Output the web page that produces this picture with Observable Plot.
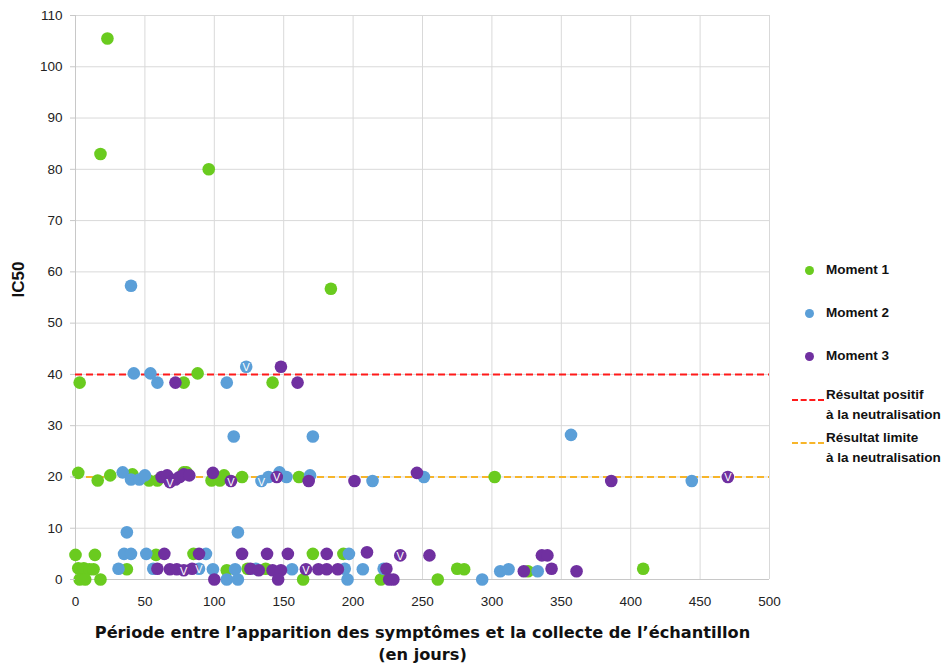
<!DOCTYPE html>
<html><head><meta charset="utf-8">
<script src="https://cdn.jsdelivr.net/npm/d3@7"></script>
<script src="https://cdn.jsdelivr.net/npm/@observablehq/plot@0.6"></script>
<style>
body{margin:0;background:#fff;font-family:"Liberation Sans",Arial,sans-serif;}
#wrap{position:relative;width:947px;height:663px;}
.lg{position:absolute;font-weight:bold;font-size:13.5px;color:#111;line-height:20px;}
.dot{position:absolute;width:9px;height:9px;border-radius:50%;}
.ln{position:absolute;width:32px;height:0;border-top:2px dashed;}
</style></head>
<body><div id="wrap"></div>
<script>
// [jours, IC50, marqueur V (1 = oui)]
const moment1 = [
 [23,105.5],[18,83],[96,80],[184,56.7],[3,38.4],[88,40.2],[78,38.4],[142,38.4],
 [2,20.8],[16,19.3],[25,20.3],[41,20.5],[53,19.3],[59,19.3],[78,20.9],[80,20.9],[98,19.3],[104,19.3],[107,20.3],[120,20],[161,20],[302,20],
 [0,4.8],[14,4.8],[2,2.2],[6,2.2],[10,2],[13,2],[3,0],[7,0],[18,0],[37,2],[58,4.8],[85,5],[109,1.8],[124,2.1],[137,2.1],[164,0],[171,5],[193,5],[220,0],[261,0],[275,2.1],[280,2],[326,1.6],[409,2.1]
];
const moment2 = [
 [40,57.3],[42,40.2],[54,40.2],[59,38.4],[109,38.4],[123,41.5,1],[114,27.9],[171,27.9],[357,28.2],
 [34,20.9],[40,19.5],[46,19.5],[50,20.3],[134,19.2,1],[139,20],[147,20.9],[152,20],[169,20.3],[214,19.2],[251,20],[444,19.2],
 [37,9.2],[117,9.2],
 [31,2.1],[35,5],[40,5],[51,5],[56,2.1],[89,2.1,1],[94,5],[99,2],[109,0],[115,2],[117,0],[130,2.1],[156,2],[194,2.1],[196,0],[197,5],[207,2],[222,2.1],[293,0],[306,1.6],[312,2],[333,1.6]
];
const moment3 = [
 [148,41.5],[160,38.4],[72,38.4],
 [62,20],[66,20.3],[68,19,1],[72,19.5],[75,20],[78,20.5],[82,20.3],[99,20.8],[112,19.2,1],[145,20,1],[168,19.2],[201,19.2],[246,20.8],[386,19.2],[470,20,1],
 [64,5],[59,2.1],[68,2],[73,2],[78,1.8,1],[84,2.1],[89,5],[100,0],[120,5],[126,2.1],[132,1.8],[138,5],[142,1.8],[148,1.8],[146,0],[153,5],[166,2,1],[175,2],[181,2],[189,2],[181,5],[210,5.3],[234,4.7,1],[255,4.7],[224,2.1],[226,0],[229,0],[323,1.6],[336,4.7],[340,4.7],[343,2.1],[361,1.6]
];
const seuils = [{y:40, color:"#ff1a1a"},{y:20, color:"#f7b529"}];
const xTicks = d3.range(0, 501, 50);
const yTicks = d3.range(0, 111, 10);
const colors = {m1:"#6acb1f", m2:"#5b9fd8", m3:"#7030a0"};
const xTitle = "Période entre l’apparition des symptômes et la collecte de l’échantillon\n(en jours)";

const vPts = [...moment1, ...moment2, ...moment3].filter(d => d[2] === 1);

const chart = Plot.plot({
  width: 947, height: 663,
  marginLeft: 75, marginRight: 178, marginTop: 15, marginBottom: 84,
  style: {fontFamily: "Liberation Sans, Arial, sans-serif", fontSize: "13px", color: "#222"},
  x: {domain: [0, 500], label: null},
  y: {domain: [0, 110], label: null},
  marks: [
    Plot.gridX(xTicks, {stroke: "#d9d9d9", strokeOpacity: 1}),
    Plot.gridY(yTicks, {stroke: "#d9d9d9", strokeOpacity: 1}),
    Plot.ruleX([0], {stroke: "#c8c8c8"}),
    Plot.ruleY([0], {stroke: "#c8c8c8"}),
    Plot.ruleY(seuils, {y: "y", stroke: "color", strokeWidth: 2, strokeDasharray: "7,4"}),
    Plot.dot(moment1, {x: d => d[0], y: d => d[1], r: 6.3, fill: colors.m1}),
    Plot.dot(moment2, {x: d => d[0], y: d => d[1], r: 6.3, fill: colors.m2}),
    Plot.dot(moment3, {x: d => d[0], y: d => d[1], r: 6.3, fill: colors.m3}),
    Plot.text(vPts, {x: d => d[0], y: d => d[1], text: () => "V", fill: "white", fontSize: 11, dy: 1}),
    Plot.axisX(xTicks, {tickSize: 0, tickPadding: 17, fontSize: 13.5, fill: "#222", label: null}),
    Plot.axisY(yTicks, {tickSize: 5, stroke: "#c8c8c8", tickPadding: 8, fontSize: 13.5, fill: "#222", label: null}),
    Plot.text([xTitle], {frameAnchor: "bottom", dy: 44, lineAnchor: "top", fontFamily: "DejaVu Sans, sans-serif", fontWeight: "bold", fontSize: 16.2, fill: "#111", lineHeight: 1.3}),
    Plot.text(["IC50"], {frameAnchor: "left", dx: -57, rotate: -90, fontWeight: "bold", fontSize: 17, fill: "#111"})
  ]
});
const wrap = document.getElementById("wrap");
wrap.appendChild(chart);

const legendItems = [
  {type:"dot", color: colors.m1, label:"Moment 1", y: 270},
  {type:"dot", color: colors.m2, label:"Moment 2", y: 313},
  {type:"dot", color: colors.m3, label:"Moment 3", y: 356},
  {type:"line", color: seuils[0].color, label:"Résultat positif<br>à la neutralisation", y: 400},
  {type:"line", color: seuils[1].color, label:"Résultat limite<br>à la neutralisation", y: 443}
];
for (const it of legendItems) {
  const m = document.createElement("div");
  if (it.type === "dot") {
    m.className = "dot"; m.style.background = it.color;
    m.style.left = "805px"; m.style.top = (it.y - 4.5) + "px";
  } else {
    m.className = "ln"; m.style.borderColor = it.color;
    m.style.left = "792px"; m.style.top = (it.y - 1) + "px";
  }
  wrap.appendChild(m);
  const t = document.createElement("div");
  t.className = "lg"; t.innerHTML = it.label;
  t.style.left = "826px";
  t.style.top = (it.type === "dot" ? it.y - 10 : it.y - 15) + "px";
  wrap.appendChild(t);
}
</script></body></html>
